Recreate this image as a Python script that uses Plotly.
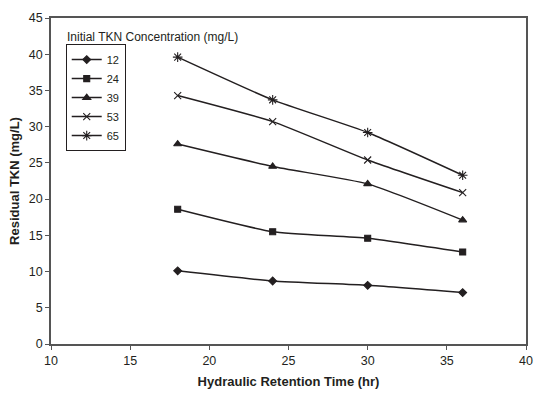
import plotly.graph_objects as go

hrt = [18, 24, 30, 36]
series_names = ["12", "24", "39", "53", "65"]
tkn_12 = [10.1, 8.7, 8.1, 7.1]
tkn_24 = [18.6, 15.5, 14.6, 12.7]
tkn_39 = [27.6, 24.5, 22.1, 17.1]
tkn_53 = [34.3, 30.7, 25.4, 20.9]
tkn_65 = [39.6, 33.7, 29.2, 23.3]
values = [tkn_12, tkn_24, tkn_39, tkn_53, tkn_65]
x_ticks = [10, 15, 20, 25, 30, 35, 40]
y_ticks = [0, 5, 10, 15, 20, 25, 30, 35, 40, 45]

symbols = ["diamond", "square", "triangle-up", "x-thin-open", "asterisk-open"]
sizes = [6, 6, 7, 7, 8]
col = "#231f20"

fig = go.Figure()
for name, vals, sym, sz in zip(series_names, values, symbols, sizes):
    fig.add_trace(go.Scatter(
        x=hrt, y=vals, name=name, mode="lines+markers",
        line=dict(color=col, width=1.5, shape="spline", smoothing=0.5),
        marker=dict(symbol=sym, size=sz, color=col, line=dict(color=col, width=1.1)),
    ))

fig.update_layout(
    width=538, height=394,
    margin=dict(l=51, r=5, t=18, b=50),
    paper_bgcolor="white", plot_bgcolor="white",
    font=dict(family="Liberation Sans, Arial, sans-serif", size=12, color="#231f20"),
    showlegend=True,
    legend=dict(
        x=0.031, y=0.92, xanchor="left", yanchor="top",
        bordercolor="#231f20", borderwidth=1, bgcolor="white",
        font=dict(size=11), itemwidth=30, tracegroupgap=0,
    ),
    annotations=[dict(
        text="Initial TKN Concentration (mg/L)", xref="paper", yref="paper",
        x=0.029, y=0.942, xanchor="left", yanchor="middle", showarrow=False,
        font=dict(size=12, color="#231f20"),
    )],
)
fig.update_xaxes(
    range=[10, 40], tickvals=x_ticks, ticks="outside", ticklen=4, tickcolor="#555",
    showline=True, linecolor="#555", linewidth=1.5, mirror=True, showgrid=False, zeroline=False,
    title=dict(text="<b>Hydraulic Retention Time (hr)</b>", font=dict(size=13), standoff=10),
    tickfont=dict(size=12.5),
)
fig.update_yaxes(
    range=[0, 45], tickvals=y_ticks, ticks="outside", ticklen=4, tickcolor="#555",
    showline=True, linecolor="#555", linewidth=1.5, mirror=True, showgrid=False, zeroline=False,
    title=dict(text="<b>Residual TKN (mg/L)</b>", font=dict(size=13), standoff=6),
    tickfont=dict(size=12.5),
)
fig.write_html("out.html")
